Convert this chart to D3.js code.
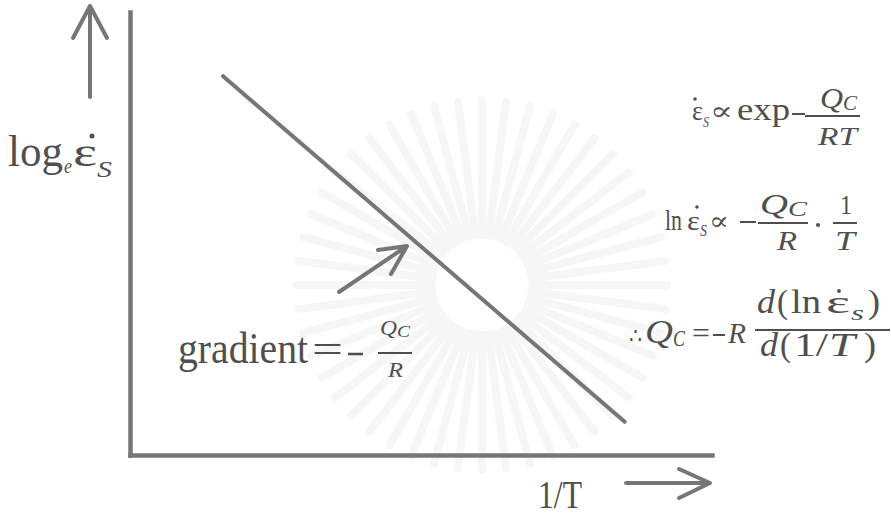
<!DOCTYPE html>
<html>
<head>
<meta charset="utf-8">
<script src="https://cdn.jsdelivr.net/npm/d3@7/dist/d3.min.js"></script>
<style>
  html, body { margin: 0; padding: 0; background: #ffffff; }
  svg { display: block; }
</style>
</head>
<body>
<svg id="chart" width="891" height="519"></svg>
<script>
// Arrhenius plot: log strain rate against reciprocal temperature
const invT = [1.6, 8.5];          // 1/T (arbitrary units)
const lnRate = [8.55, 0.75];      // log_e of steady-state creep rate
const xDomain = [0, 10];
const yDomain = [0, 10];

const INK = "#4f4f4f";
const LINE = "#767676";
const SERIF = "'Liberation Serif', 'DejaVu Serif', serif";

const svg = d3.select("#chart");

const x = d3.scaleLinear().domain(xDomain).range([130, 712]);
const y = d3.scaleLinear().domain(yDomain).range([455, 12]);

// faint sunburst seal behind the plot
const seal = svg.append("g").attr("transform", "translate(482,285)");
d3.range(0, 360, 7.5).forEach(a => {
  const r = a * Math.PI / 180;
  seal.append("line")
    .attr("x1", Math.cos(r) * 50).attr("y1", Math.sin(r) * 50)
    .attr("x2", Math.cos(r) * 185).attr("y2", Math.sin(r) * 185)
    .attr("stroke", "#f6f6f6").attr("stroke-width", 8)
    .attr("stroke-linecap", "round");
});

// axes: bare lines, no ticks
const axisStyle = g => g.select(".domain")
  .attr("stroke", LINE).attr("stroke-width", 4.5).attr("stroke-linecap", "square");

svg.append("g")
  .attr("transform", `translate(${x.range()[0]},0)`)
  .call(d3.axisLeft(y).tickValues([]).tickSizeOuter(0))
  .call(axisStyle);

svg.append("g")
  .attr("transform", `translate(0,${y.range()[0]})`)
  .call(d3.axisBottom(x).tickValues([]).tickSizeOuter(0))
  .call(axisStyle);

// the straight-line fit
const pts = invT.map((v, i) => [v, lnRate[i]]);
svg.append("path")
  .datum(pts)
  .attr("d", d3.line().x(d => x(d[0])).y(d => y(d[1])))
  .attr("fill", "none")
  .attr("stroke", LINE)
  .attr("stroke-width", 4)
  .attr("stroke-linecap", "round");

// open arrows
function arrow(x1, y1, x2, y2, b1, b2) {
  const p = d3.path();
  p.moveTo(x1, y1); p.lineTo(x2, y2);
  p.moveTo(b1[0], b1[1]); p.lineTo(x2, y2); p.lineTo(b2[0], b2[1]);
  svg.append("path").attr("d", p.toString())
    .attr("fill", "none").attr("stroke", LINE).attr("stroke-width", 4)
    .attr("stroke-linecap", "round").attr("stroke-linejoin", "round");
}
arrow(90, 97, 90, 6, [73, 38], [107, 38]);          // y direction
arrow(626, 483, 710, 483, [679, 469], [679, 498]);  // x direction
arrow(339, 292, 407, 246, [378, 250], [391, 274]);  // points at the slope

// positioned text pieces
function txt(px, py, s, size, o = {}) {
  const t = svg.append("text")
    .attr("transform", `translate(${px},${py}) scale(1,${o.sy || 1})`)
    .attr("font-family", SERIF)
    .attr("font-size", size)
    .attr("font-style", o.italic ? "italic" : "normal")
    .attr("fill", INK)
    .text(s);
  if (o.w) t.attr("textLength", o.w).attr("lengthAdjust", "spacingAndGlyphs");
  return t;
}
function dot(cx, cy, r = 2.2) {
  svg.append("circle").attr("cx", cx).attr("cy", cy).attr("r", r).attr("fill", INK);
}
function bar(x1, x2, yy, w = 2) {
  svg.append("line").attr("x1", x1).attr("x2", x2).attr("y1", yy).attr("y2", yy)
    .attr("stroke", INK).attr("stroke-width", w);
}

// y-axis title: log_e ε̇_S
txt(8, 166, "log", 40, { w: 55, sy: 1.12 });
txt(64, 173, "e", 20, { italic: true, w: 8 });
txt(73, 166, "ε", 40, { w: 24 });
dot(92, 136, 2.5);
txt(97, 177, "S", 24, { italic: true, w: 15 });

// x-axis title
txt(538, 508, "1/T", 32, { w: 44, sy: 1.28 });

// gradient = −Q_C / R
txt(178, 363, "gradient", 40, { w: 130, sy: 1.1 });
txt(312, 363, "=", 40, { w: 31 });
bar(348, 363, 354, 2.5);
txt(380, 335, "Q", 22, { italic: true, w: 17 });
txt(397, 337, "C", 17, { italic: true, w: 13 });
bar(378, 412, 353);
txt(388, 377, "R", 22, { italic: true, w: 15 });

// ε̇_S ∝ exp −Q_C/RT
txt(692, 120, "ε", 28, { w: 11 });
dot(695, 99, 1.8);
txt(703, 127, "S", 15, { italic: true, w: 6 });
txt(710, 120, "∝", 26, { w: 23 });
txt(737, 120, "exp", 32, { w: 53 });
bar(792, 805, 114);
txt(820, 108, "Q", 30, { italic: true, w: 23 });
txt(843, 110, "C", 22, { italic: true, w: 14 });
bar(805, 860, 116);
txt(818, 145, "RT", 26, { italic: true, w: 39 });

// ln ε̇_S ∝ −Q_C/R · 1/T
txt(665, 230, "ln", 30, { w: 17 });
txt(687, 230, "ε", 28, { w: 13 });
dot(697, 207, 1.8);
txt(700, 236, "S", 16, { italic: true, w: 7 });
txt(709, 230, "∝", 26, { w: 20 });
bar(740, 756, 222);
txt(760, 214, "Q", 30, { italic: true, w: 28 });
txt(788, 216, "C", 22, { italic: true, w: 19 });
bar(758, 808, 223);
txt(777, 250, "R", 28, { italic: true, w: 20 });
dot(818, 225, 2);
txt(840, 214, "1", 28, { w: 12 });
bar(833, 857, 223);
txt(835, 250, "T", 28, { italic: true, w: 20 });

// ∴ Q_C = −R d(ln ε̇_S) / d(1/T)
txt(629, 343, "∴", 22, { w: 13 });
txt(645, 343, "Q", 34, { italic: true, w: 28 });
txt(673, 346, "C", 24, { italic: true, w: 12 });
txt(692, 343, "=", 30, { w: 18 });
bar(713, 725, 335);
txt(728, 343, "R", 30, { italic: true, w: 18 });
txt(757, 313, "d", 34, { italic: true, w: 18 });
txt(777, 313, "(", 34, { w: 11 });
txt(791, 313, "ln", 34, { w: 30 });
txt(826, 313, "ε", 32, { w: 24 });
dot(839, 291, 1.9);
txt(851, 320, "s", 21, { italic: true, w: 13 });
txt(868, 313, ")", 34, { w: 12 });
bar(755, 890, 330);
txt(760, 356, "d", 34, { italic: true, w: 18 });
txt(780, 356, "(", 34, { w: 11 });
txt(794, 356, "1/", 34, { w: 34 });
txt(829, 356, "T", 34, { italic: true, w: 26 });
txt(864, 356, ")", 34, { w: 12 });
</script>
</body>
</html>
